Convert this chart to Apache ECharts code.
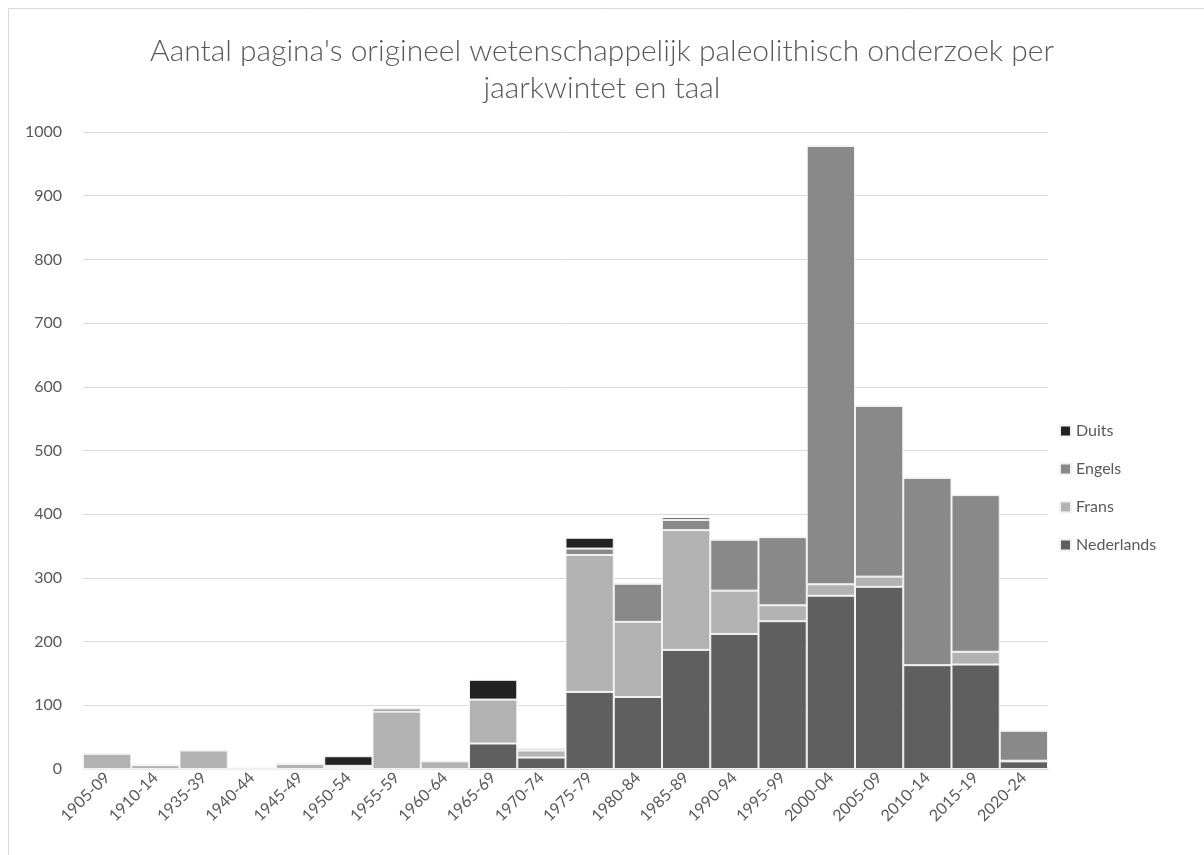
<!DOCTYPE html>
<html>
<head>
<meta charset="utf-8">
<script src="https://cdn.jsdelivr.net/npm/echarts@6/dist/echarts.min.js"></script>
<style>
	html,body{margin:0;padding:0;background:#fff;}
	#chart{width:1204px;height:855px;}
</style>
</head>
<body>
<div id="chart"></div>
<script>
	// jaarkwintetten
	const periods=["1905-09","1910-14","1935-39","1940-44","1945-49","1950-54","1955-59","1960-64","1965-69","1970-74",
		"1975-79","1980-84","1985-89","1990-94","1995-99","2000-04","2005-09","2010-14","2015-19","2020-24"];
	// pagina's per taal
	const nederlands=[0,0,0,0,0,0,0,0,40,18,121,113,187,212,232,272,286,163,164,12];
	const frans=[24,6,29,1,8,3,90,12,69,11,215,118,188,68,25,18,16,0,20,1];
	const engels=[0,0,0,0,0,2,5,0,0,3,10,60,16,80,107,688,268,294,246,47];
	const duits=[0,0,0,0,0,15,0,0,31,0,17,0,4,0,0,0,0,0,0,0];

	const font="Lato";
	const chart=echarts.init(document.getElementById("chart"));

	function bar(name,data,color){
		return {
			name:name,
			type:"bar",
			stack:"taal",
			barCategoryGap:"0%",
			data:data,
			itemStyle:{
				color:color,
				borderColor:"#f2f2f2",
				borderWidth:1
			}
		};
	}

	chart.setOption({
		animation:false,
		textStyle:{fontFamily:font},
		title:{
			text:"Aantal pagina's origineel wetenschappelijk paleolithisch onderzoek per\njaarkwintet en taal",
			left:"center",
			top:28,
			textStyle:{
				fontFamily:font,
				fontSize:30,
				fontWeight:300,
				color:"#595959",
				lineHeight:37
			}
		},
		legend:{
			orient:"vertical",
			left:1054,
			top:418,
			itemWidth:11,
			itemHeight:11,
			itemGap:22,
			icon:"rect",
			data:["Duits","Engels","Frans","Nederlands"],
			textStyle:{fontFamily:font,fontSize:16,color:"#595959"}
		},
		grid:{
			left:83,
			right:156,
			top:132,
			bottom:86
		},
		xAxis:{
			type:"category",
			data:periods,
			axisTick:{show:false},
			axisLine:{lineStyle:{color:"#d9d9d9"}},
			axisLabel:{
				interval:0,
				rotate:45,
				fontSize:16,
				color:"#595959",
				margin:6
			}
		},
		yAxis:{
			type:"value",
			min:0,
			max:1000,
			interval:100,
			axisLabel:{fontSize:16,color:"#595959",margin:21,formatter:function(v){return String(v);}},
			splitLine:{lineStyle:{color:"#d9d9d9"}}
		},
		series:[
			bar("Nederlands",nederlands,"#5f5f5f"),
			bar("Frans",frans,"#b2b2b2"),
			bar("Engels",engels,"#898989"),
			bar("Duits",duits,"#222222")
		],
		graphic:[{
			type:"rect",
			shape:{x:8.5,y:8.5,width:1200,height:860},
			style:{fill:null,stroke:"#d9d9d9",lineWidth:1},
			silent:true
		}]
	});
</script>
</body>
</html>
